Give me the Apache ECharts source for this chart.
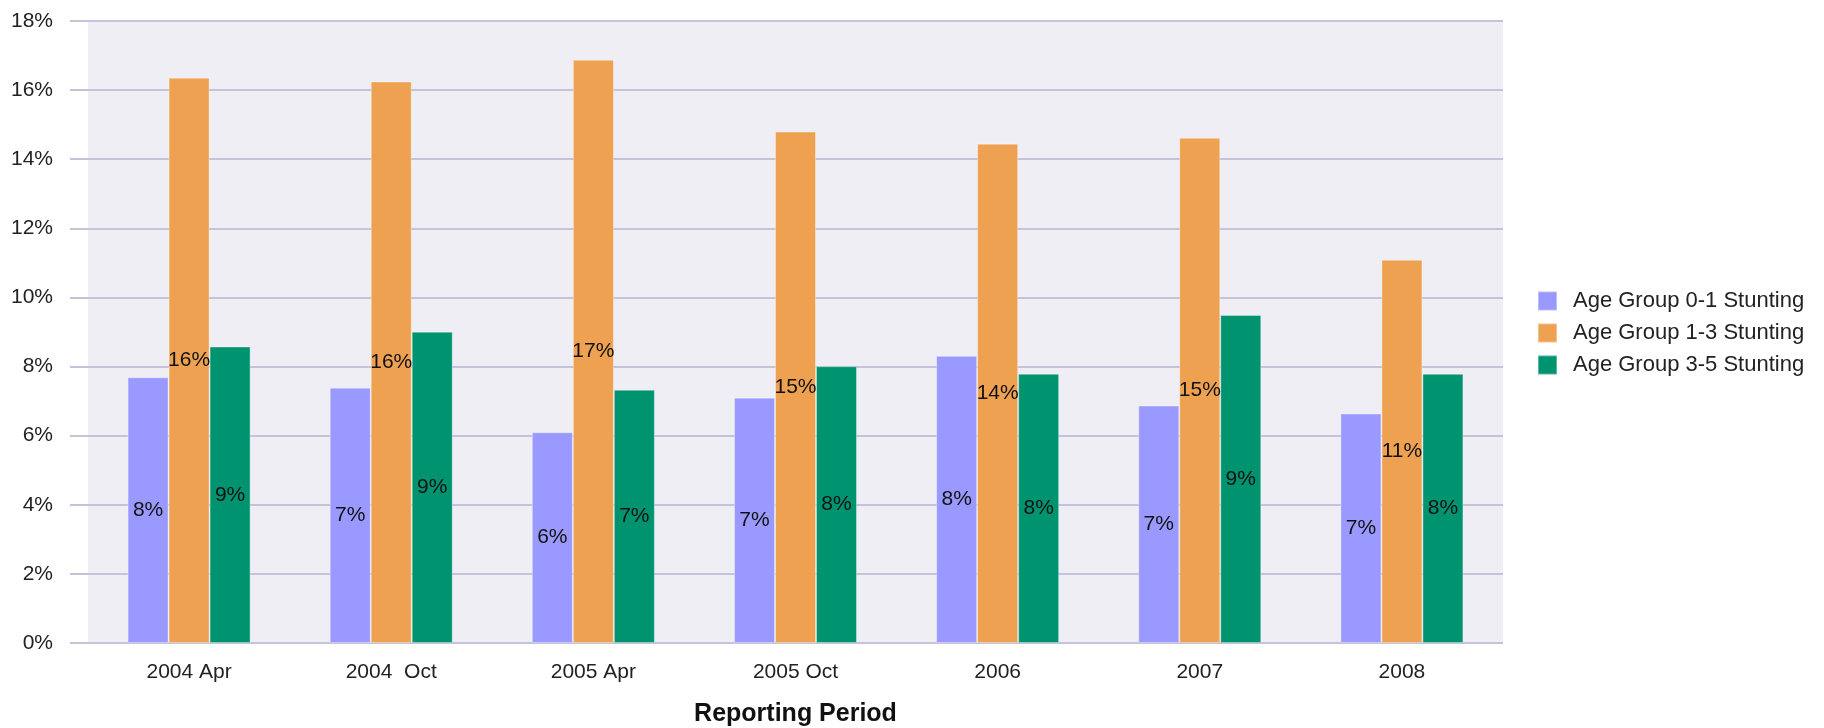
<!DOCTYPE html>
<html>
<head>
<meta charset="utf-8">
<script src="https://cdn.jsdelivr.net/npm/echarts@6/dist/echarts.min.js"></script>
<style>
html,body{margin:0;padding:0;background:#fff;}
#chart{width:1824px;height:728px;}
</style>
</head>
<body>
<div id="chart"></div>
<script>
const categories = ["2004 Apr", "2004  Oct", "2005 Apr", "2005 Oct", "2006", "2007", "2008"];
const seriesNames = ["Age Group 0-1 Stunting", "Age Group 1-3 Stunting", "Age Group 3-5 Stunting"];
const age01 = [7.69, 7.39, 6.10, 7.10, 8.31, 6.87, 6.64];
const age13 = [16.36, 16.25, 16.88, 14.80, 14.45, 14.62, 11.09];
const age35 = [8.58, 9.01, 7.33, 8.01, 7.79, 9.49, 7.79];
const yTicks = [0, 2, 4, 6, 8, 10, 12, 14, 16, 18];
const colors = ["#9999ff", "#eea151", "#009370"];

const FONT = '"Liberation Sans", Arial, sans-serif';
const gridColor = "#c5c2d9";

const chart = echarts.init(document.getElementById('chart'), null, {renderer: 'canvas'});

function makeSeries(name, data, color) {
  return {
    name: name,
    type: 'bar',
    data: data,
    barWidth: 41,
    barGap: '0%',
    itemStyle: {color: color, borderColor: 'rgba(255,255,255,0.35)', borderWidth: 1},
    label: {
      show: true,
      position: 'inside',
      color: '#111',
      fontFamily: FONT,
      fontSize: 21,
      formatter: p => Math.round(p.value) + '%'
    },
    emphasis: {disabled: true}
  };
}

chart.setOption({
  animation: false,
  backgroundColor: '#ffffff',
  color: colors,
  grid: {
    left: 88, right: 321, top: 21, bottom: 85,
    containLabel: false,
    outerBoundsMode: 'none',
    show: true, backgroundColor: '#efeef4', borderWidth: 0
  },
  legend: {
    orient: 'vertical',
    left: 1537,
    top: 290,
    padding: 0,
    itemWidth: 19,
    itemHeight: 19,
    itemGap: 10,
    icon: 'rect',
    data: seriesNames,
    textStyle: {fontFamily: FONT, fontSize: 22, color: '#222', lineHeight: 21, padding: [0, 0, 0, 11]},
    selectedMode: false
  },
  xAxis: {
    type: 'category',
    data: categories,
    axisLine: {show: false},
    axisTick: {show: false},
    axisLabel: {fontFamily: FONT, fontSize: 21, color: '#222', margin: 19},
    name: 'Reporting Period',
    nameLocation: 'middle',
    nameGap: 59,
    nameTextStyle: {fontFamily: FONT, fontSize: 25, fontWeight: 'bold', color: '#111'}
  },
  yAxis: {
    type: 'value',
    min: 0, max: 18, interval: 2,
    axisLine: {show: false},
    axisTick: {show: true, length: 18, lineStyle: {color: gridColor, width: 2}},
    splitLine: {show: true, lineStyle: {color: gridColor, width: 2}},
    axisLabel: {
      fontFamily: FONT, fontSize: 21, color: '#222', margin: 35,
      formatter: v => (yTicks.indexOf(v) >= 0 ? v + '%' : '')
    }
  },
  series: [
    makeSeries(seriesNames[0], age01, colors[0]),
    makeSeries(seriesNames[1], age13, colors[1]),
    makeSeries(seriesNames[2], age35, colors[2])
  ]
});
</script>
</body>
</html>
